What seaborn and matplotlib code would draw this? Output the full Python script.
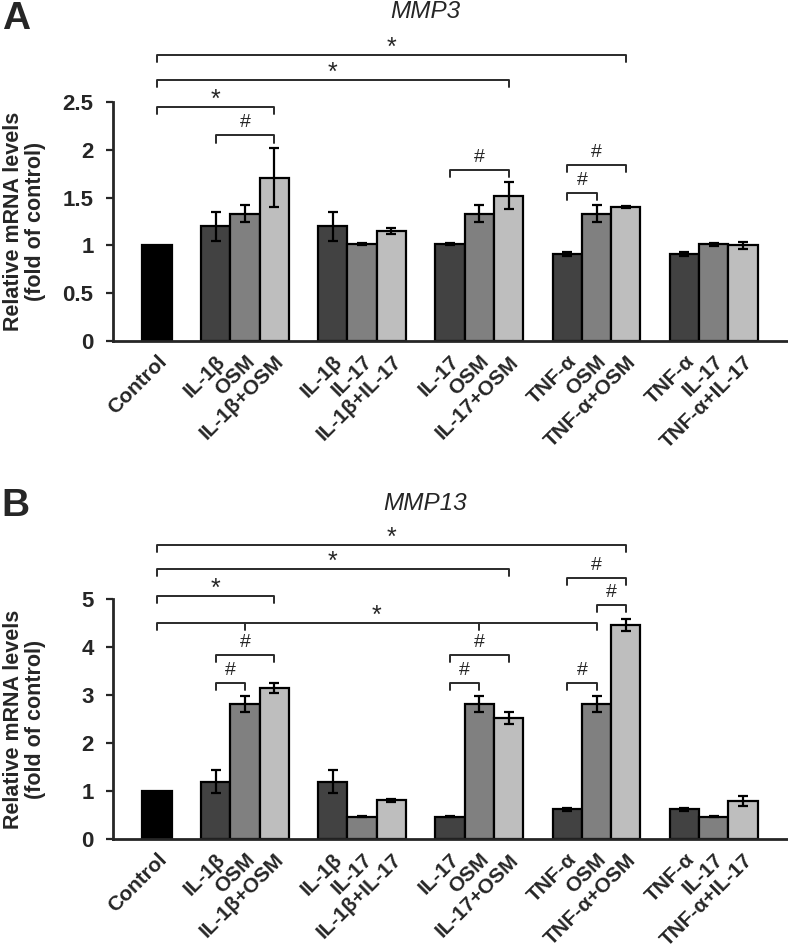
import pandas as pd
import matplotlib
matplotlib.use('Agg')
import matplotlib.pyplot as plt
import seaborn as sns

# 스타일 설정
sns.set_style('white')
plt.rcParams['font.family'] = ['Liberation Sans', 'DejaVu Sans']

# 막대별 라벨 (막대 하나당 하나)
bar_labels = ['Control',
              'IL-1β', 'OSM', 'IL-1β+OSM',
              'IL-1β', 'IL-17', 'IL-1β+IL-17',
              'IL-17', 'OSM', 'IL-17+OSM',
              'TNF-α', 'OSM', 'TNF-α+OSM',
              'TNF-α', 'IL-17', 'TNF-α+IL-17']
bar_kind = ['control'] + ['first', 'second', 'combo'] * 5

# MMP3 (A)
mmp3_mean = [1.00, 1.20, 1.33, 1.71, 1.20, 1.01, 1.15, 1.01, 1.33, 1.52,
             0.91, 1.33, 1.40, 0.91, 1.01, 1.00]
mmp3_sem = [0.00, 0.15, 0.09, 0.31, 0.15, 0.01, 0.03, 0.01, 0.09, 0.14,
            0.02, 0.09, 0.01, 0.02, 0.02, 0.04]

# MMP13 (B)
mmp13_mean = [1.00, 1.19, 2.81, 3.15, 1.19, 0.46, 0.81, 0.46, 2.81, 2.52,
              0.62, 2.81, 4.46, 0.62, 0.46, 0.79]
mmp13_sem = [0.00, 0.24, 0.17, 0.10, 0.24, 0.01, 0.03, 0.01, 0.17, 0.12,
             0.03, 0.17, 0.12, 0.03, 0.01, 0.10]

palette = {'control': '#000000', 'first': '#424242',
           'second': '#808080', 'combo': '#bebebe'}

# 유의성 표시: (왼쪽 막대, 오른쪽 막대, 높이, 기호, 추가 눈금 막대)
mmp3_sig = [(0, 12, 2.99, '*', []), (0, 9, 2.73, '*', []), (0, 3, 2.45, '*', []),
            (1, 3, 2.15, '#', []), (7, 9, 1.79, '#', []),
            (10, 12, 1.84, '#', []), (10, 11, 1.55, '#', [])]
mmp13_sig = [(0, 12, 6.12, '*', []), (0, 9, 5.62, '*', []), (0, 3, 5.06, '*', []),
             (0, 11, 4.50, '*', [2, 8]),
             (1, 3, 3.83, '#', []), (1, 2, 3.25, '#', []),
             (7, 9, 3.83, '#', []), (7, 8, 3.25, '#', []),
             (10, 12, 5.44, '#', []), (11, 12, 4.88, '#', []), (10, 11, 3.25, '#', [])]

# 막대 위치: Control 다음 한 칸 띄우고 3개씩 묶음
slots = [0] + [2 + 4 * g + i for g in range(5) for i in range(3)]


def draw_panel(ax, mean, sem, ymax, yticks, sig):
    df = pd.DataFrame({'pos': slots, 'mean': mean, 'sem': sem, 'kind': bar_kind})
    sns.barplot(data=df, x='pos', y='mean', hue='kind', palette=palette,
                native_scale=True, dodge=False, width=1, errorbar=None,
                edgecolor='black', linewidth=1.6, legend=False, ax=ax)
    e = df[df['sem'] > 0]
    ax.errorbar(e['pos'], e['mean'], yerr=e['sem'], fmt='none', ecolor='black',
                elinewidth=1.6, capsize=3.5, capthick=1.6, zorder=5)

    ax.set_xlim(-1.5, 21.5)
    ax.set_ylim(0, ymax)
    ax.set_yticks(yticks, [f'{t:g}' for t in yticks], fontsize=16, fontweight='bold')
    ax.set_xticks(slots, bar_labels, rotation=45, ha='right', va='top',
                  rotation_mode='anchor', fontsize=15, fontweight='bold')
    ax.tick_params(axis='x', length=0, pad=8)
    ax.tick_params(axis='y', left=True, direction='out', length=5, width=1.6, pad=9)
    ax.set_xlabel('')
    ax.set_ylabel('Relative mRNA levels\n(fold of control)', fontsize=15.5,
                  fontweight='bold', linespacing=1.05)
    ax.yaxis.set_label_coords(-0.099, 0.5)
    sns.despine(ax=ax)
    for s in ['left', 'bottom']:
        ax.spines[s].set_linewidth(2)

    tick = 0.03 * ymax
    for a, b, y, sym, extra in sig:
        xa, xb = slots[a], slots[b]
        ax.plot([xa, xa, xb, xb], [y - tick, y, y, y - tick], color='#2a2a2a',
                lw=1.4, clip_on=False)
        for k in extra:
            ax.plot([slots[k], slots[k]], [y, y - tick], color='#2a2a2a',
                    lw=1.4, clip_on=False)
        if sym == '*':
            ax.annotate(sym, ((xa + xb) / 2, y), xytext=(0, 5), textcoords='offset points',
                        ha='center', va='center', fontsize=18, annotation_clip=False)
        else:
            ax.annotate(sym, ((xa + xb) / 2, y), xytext=(0, 9), textcoords='offset points',
                        ha='center', va='center', fontsize=14, annotation_clip=False)
    return ax


fig = plt.figure(figsize=(7.88, 9.48), dpi=100)
ax1 = fig.add_axes([0.1434, 0.6403, 0.8553, 0.2521])
ax2 = fig.add_axes([0.1434, 0.1150, 0.8553, 0.2532])

draw_panel(ax1, mmp3_mean, mmp3_sem, 2.5, [0, 0.5, 1, 1.5, 2, 2.5], mmp3_sig)
draw_panel(ax2, mmp13_mean, mmp13_sem, 5, [0, 1, 2, 3, 4, 5], mmp13_sig)

fig.text(425 / 788, 1 - 12 / 948, 'MMP3', style='italic', fontsize=17.5,
         ha='center', va='center')
fig.text(425 / 788, 1 - 503 / 948, 'MMP13', style='italic', fontsize=17.5,
         ha='center', va='center')
fig.text(0.002, 0.999, 'A', fontsize=28, fontweight='bold', ha='left', va='top')
fig.text(0.002, 1 - 488 / 948, 'B', fontsize=28, fontweight='bold', ha='left', va='top')

fig.savefig('out.png', dpi=100)
